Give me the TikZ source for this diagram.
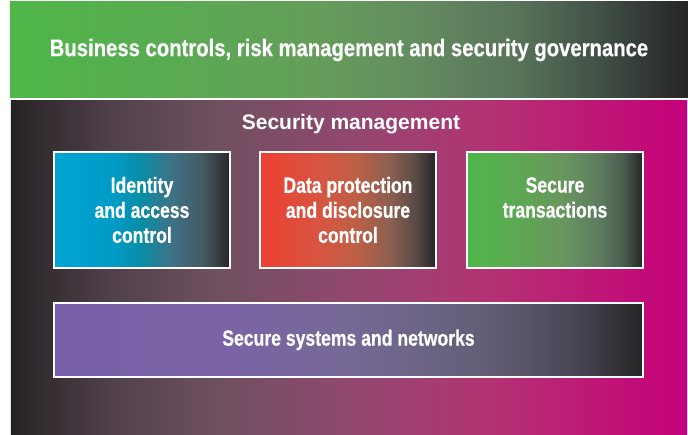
\documentclass[tikz,border=0pt]{standalone}
\usepackage{fontspec}
\setmainfont{Liberation Sans}
\newfontfamily\condfont[FakeStretch=0.8, BoldFeatures={FakeBold=0.5}]{Liberation Sans}
\newfontfamily\titlefont[FakeStretch=0.845, BoldFeatures={FakeBold=0.5}]{Liberation Sans}
\usepackage{tikz}

% colour stops
\definecolor{darkend}{RGB}{38,36,38}
\definecolor{barA}{RGB}{78,183,72}
\definecolor{barB}{RGB}{90,170,82}
\definecolor{barC}{RGB}{100,158,90}
\definecolor{barD}{RGB}{100,140,95}
\definecolor{barE}{RGB}{88,115,90}
\definecolor{barF}{RGB}{65,80,70}
\definecolor{panA}{RGB}{38,34,36}
\definecolor{panB}{RGB}{80,65,75}
\definecolor{panC}{RGB}{110,80,95}
\definecolor{panD}{RGB}{145,72,110}
\definecolor{panE}{RGB}{178,52,115}
\definecolor{panF}{RGB}{190,25,118}
\definecolor{panG}{RGB}{198,0,122}
\definecolor{idA}{RGB}{0,165,212}
\definecolor{idB}{RGB}{0,155,198}
\definecolor{idC}{RGB}{10,140,165}
\definecolor{idD}{RGB}{60,115,135}
\definecolor{idE}{RGB}{70,90,100}
\definecolor{idF}{RGB}{50,55,60}
\definecolor{dataA}{RGB}{238,64,50}
\definecolor{dataB}{RGB}{215,85,65}
\definecolor{dataC}{RGB}{190,95,70}
\definecolor{dataD}{RGB}{140,95,80}
\definecolor{dataE}{RGB}{90,75,70}
\definecolor{txA}{RGB}{78,183,72}
\definecolor{txB}{RGB}{95,165,85}
\definecolor{txC}{RGB}{105,150,95}
\definecolor{txD}{RGB}{95,125,95}
\definecolor{txE}{RGB}{75,95,80}
\definecolor{sysA}{RGB}{121,96,170}
\definecolor{sysB}{RGB}{122,100,165}
\definecolor{sysC}{RGB}{118,105,150}
\definecolor{sysD}{RGB}{100,95,120}
\definecolor{sysE}{RGB}{75,70,85}

% shadings (inner 25bp..75bp spans the node)
\pgfdeclarehorizontalshading{barshade}{100bp}{color(0bp)=(barA); color(25bp)=(barA); color(37.5bp)=(barB); color(47.5bp)=(barC); color(55bp)=(barD); color(62.5bp)=(barE); color(68.5bp)=(barF); color(75bp)=(darkend); color(100bp)=(darkend)}
\pgfdeclarehorizontalshading{panelshade}{100bp}{color(0bp)=(panA); color(25bp)=(panA); color(32.5bp)=(panB); color(40bp)=(panC); color(50bp)=(panD); color(60bp)=(panE); color(67.5bp)=(panF); color(75bp)=(panG); color(100bp)=(panG)}
\pgfdeclarehorizontalshading{idshade}{100bp}{color(0bp)=(idA); color(25bp)=(idA); color(42bp)=(idB); color(50bp)=(idC); color(58bp)=(idD); color(67bp)=(idE); color(72.5bp)=(idF); color(75bp)=(darkend); color(100bp)=(darkend)}
\pgfdeclarehorizontalshading{datashade}{100bp}{color(0bp)=(dataA); color(25bp)=(dataA); color(42bp)=(dataB); color(52bp)=(dataC); color(62bp)=(dataD); color(69bp)=(dataE); color(75bp)=(darkend); color(100bp)=(darkend)}
\pgfdeclarehorizontalshading{txshade}{100bp}{color(0bp)=(txA); color(25bp)=(txA); color(42bp)=(txB); color(52bp)=(txC); color(62bp)=(txD); color(69bp)=(txE); color(75bp)=(darkend); color(100bp)=(darkend)}
\pgfdeclarehorizontalshading{sysshade}{100bp}{color(0bp)=(sysA); color(25bp)=(sysA); color(40bp)=(sysB); color(50bp)=(sysC); color(61bp)=(sysD); color(69bp)=(sysE); color(75bp)=(darkend); color(100bp)=(darkend)}

\tikzset{
  areabox/.style={rectangle, inner sep=0pt, text=white, align=center},
  subbox/.style={rectangle, draw=white, line width=2bp, inner sep=0pt,
    minimum width=176bp, minimum height=116bp, text=white, align=center,
    font=\condfont\bfseries\fontsize{22bp}{25bp}\selectfont},
}

\begin{document}
\begin{tikzpicture}[x=1bp, y=1bp]
\useasboundingbox (0,0) rectangle (688,435);
\fill[white] (0,0) rectangle (688,435);
\node at (349, 385) [areabox, shading=barshade, minimum width=678bp, minimum height=96bp,
  font=\titlefont\bfseries\fontsize{24bp}{27bp}\selectfont] (bar) {Business controls, risk management and security governance};
\node at (349, 167) [areabox, shading=panelshade, minimum width=676bp, minimum height=334bp] (panel) {};
\node at (351, 311) [text=white, font=\bfseries\fontsize{21bp}{25bp}\selectfont] (mgmt) {Security management};
\node at (142, 225) [subbox, shading=idshade] (idbox) {Identity\\and access\\control};
\node at (348, 225) [subbox, shading=datashade] (databox) {Data protection\\and disclosure\\control};
\node at (555, 225) [subbox, shading=txshade] (txbox) {Secure\\transactions\\\phantom{control}};
\node at (348.5, 95) [subbox, shading=sysshade, minimum width=589bp, minimum height=74bp] (sysbox) {Secure systems and networks};
\end{tikzpicture}
\end{document}
